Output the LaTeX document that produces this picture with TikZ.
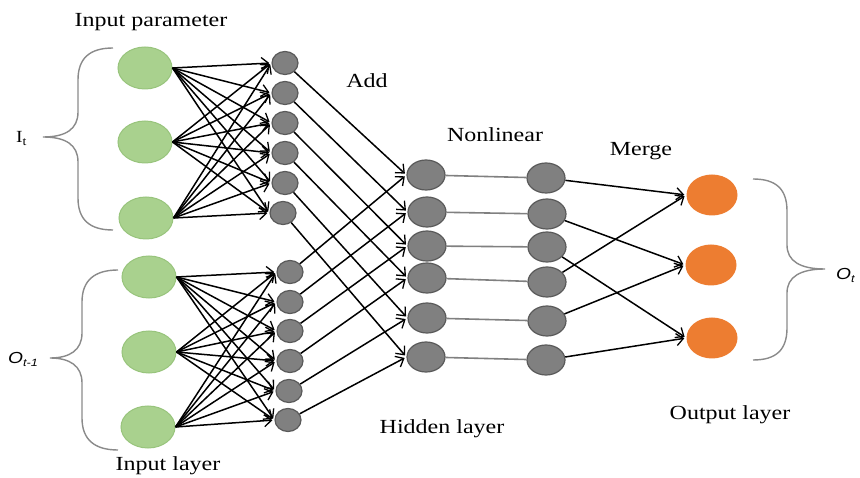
\documentclass[tikz,border=0pt]{standalone}
\usepackage{fontspec}
\setmainfont{Liberation Serif}
\newfontfamily\labsans{Liberation Sans}
\usetikzlibrary{arrows.meta,shapes.geometric}
\definecolor{ngreen}{HTML}{A9D18E}
\definecolor{ngreenb}{HTML}{98C47C}
\definecolor{ngray}{HTML}{808080}
\definecolor{ngrayb}{HTML}{5A5A5A}
\definecolor{norange}{HTML}{ED7D31}
\definecolor{nbrace}{HTML}{8A8A8A}
\begin{document}
\begin{tikzpicture}[x=1pt,y=-1pt,
  gin/.style={ellipse,draw=ngreenb,fill=ngreen,line width=1pt,minimum width=54pt,minimum height=42pt,inner sep=0pt},
  smallg/.style={ellipse,draw=ngrayb,fill=ngray,line width=1.2pt,minimum width=26pt,minimum height=23pt,inner sep=0pt},
  bigg/.style={ellipse,draw=ngrayb,fill=ngray,line width=1.2pt,minimum width=38pt,minimum height=30pt,inner sep=0pt},
  outn/.style={ellipse,fill=norange,minimum width=51pt,minimum height=41pt,inner sep=0pt},
  arr/.style={line width=1.5pt,-{Straight Barb[length=7pt,width=12pt,line width=1.3pt]},shorten >=2pt},
  link/.style={line width=1.6pt,draw=ngray},
  brace/.style={line width=1.4pt,draw=nbrace},
  lbl/.style={font=\fontsize{20}{24}\selectfont,inner sep=0pt,anchor=base}
]
\useasboundingbox (0,0) rectangle (860,478);

% input nodes
\node[gin] (g1) at (145,68) {};
\node[gin] (g2) at (145,142) {};
\node[gin] (g3) at (146,218) {};
\node[gin] (h1) at (149,277) {};
\node[gin] (h2) at (149,352) {};
\node[gin] (h3) at (148,427) {};

% small gray nodes
\node[smallg] (a1) at (285,63) {};
\node[smallg] (a2) at (285,93) {};
\node[smallg] (a3) at (285,123) {};
\node[smallg] (a4) at (285,153) {};
\node[smallg] (a5) at (285,183) {};
\node[smallg] (a6) at (283,213) {};
\node[smallg] (b1) at (290,272) {};
\node[smallg] (b2) at (290,302) {};
\node[smallg] (b3) at (290,331) {};
\node[smallg] (b4) at (290,361) {};
\node[smallg] (b5) at (289,391) {};
\node[smallg] (b6) at (288,420) {};

% nonlinear columns
\node[bigg] (c1) at (426,175) {};
\node[bigg] (c2) at (427,212) {};
\node[bigg] (c3) at (427,246) {};
\node[bigg] (c4) at (427,278) {};
\node[bigg] (c5) at (427,318) {};
\node[bigg] (c6) at (426,357) {};
\node[bigg] (d1) at (546,178) {};
\node[bigg] (d2) at (547,214) {};
\node[bigg] (d3) at (547,247) {};
\node[bigg] (d4) at (547,282) {};
\node[bigg] (d5) at (547,321) {};
\node[bigg] (d6) at (546,360) {};

% outputs
\node[outn] (o1) at (712,195) {};
\node[outn] (o2) at (711,265) {};
\node[outn] (o3) at (712,338) {};

% input to small
\foreach \i in {1,2,3}{
  \foreach \j in {1,...,6}{
    \draw[arr] (g\i.east) -- (a\j.west);
    \draw[arr] (h\i.east) -- (b\j.west);
  }
}
% small to nonlinear
\foreach \i in {1,...,6}{
  \draw[arr] (a\i) -- (c\i.west);
  \draw[arr] (b\i) -- (c\i.west);
  \draw[link] (c\i) -- (d\i);
}
% merge
\draw[arr] (d1) -- (o1.west);
\draw[arr] (d2) -- (o2.west);
\draw[arr] (d3) -- (o3.west);
\draw[arr] (d4) -- (o1.west);
\draw[arr] (d5) -- (o2.west);
\draw[arr] (d6) -- (o3.west);

% braces
\draw[brace] (113,48) .. controls (90,48) and (78,58) .. (78,80) -- (78,112)
  .. controls (78,129) and (66,137) .. (43,137)
  .. controls (66,137) and (78,145) .. (78,162) -- (78,198)
  .. controls (78,220) and (90,230) .. (113,230);
\draw[brace] (118,270) .. controls (95,270) and (82,280) .. (82,302) -- (82,333)
  .. controls (82,350) and (70,358) .. (50,358)
  .. controls (70,358) and (82,366) .. (82,383) -- (82,418)
  .. controls (82,440) and (95,450) .. (118,450);
\draw[brace] (753,179) .. controls (776,179) and (787,189) .. (787,211) -- (787,245)
  .. controls (787,261) and (800,269) .. (825,269)
  .. controls (800,269) and (787,277) .. (787,293) -- (787,328)
  .. controls (787,350) and (776,360) .. (753,360);

% labels
\node[lbl] (tin) at (151,27) {\scalebox{1.2}[1]{Input parameter}};
\node[lbl] (tadd) at (367,88) {\scalebox{1.2}[1]{Add}};
\node[lbl] (tnon) at (495,142) {\scalebox{1.2}[1]{Nonlinear}};
\node[lbl] (tmer) at (641,156) {\scalebox{1.2}[1]{Merge}};
\node[lbl] (thid) at (442,433) {\scalebox{1.2}[1]{Hidden layer}};
\node[lbl] (tout) at (730,420) {\scalebox{1.2}[1]{Output layer}};
\node[lbl] (tinl) at (168,470) {\scalebox{1.2}[1]{Input layer}};
\node[inner sep=0pt,anchor=base west,font=\fontsize{17}{20}\selectfont] (lit) at (16,143) {\scalebox{1.15}[1]{I\raisebox{-2.5pt}{\fontsize{12}{14}\selectfont t}}};
\node[inner sep=0pt,anchor=base west,font=\labsans\itshape\fontsize{16}{19}\selectfont] (lot1) at (8,364) {\scalebox{1.2}[1]{O\raisebox{-3pt}{\fontsize{10.5}{12}\selectfont t-1}}};
\node[inner sep=0pt,anchor=base west,font=\labsans\itshape\fontsize{16}{19}\selectfont] (lot) at (836,280) {\scalebox{1.2}[1]{O\raisebox{-3pt}{\fontsize{10.5}{12}\selectfont t}}};
\end{tikzpicture}
\end{document}
